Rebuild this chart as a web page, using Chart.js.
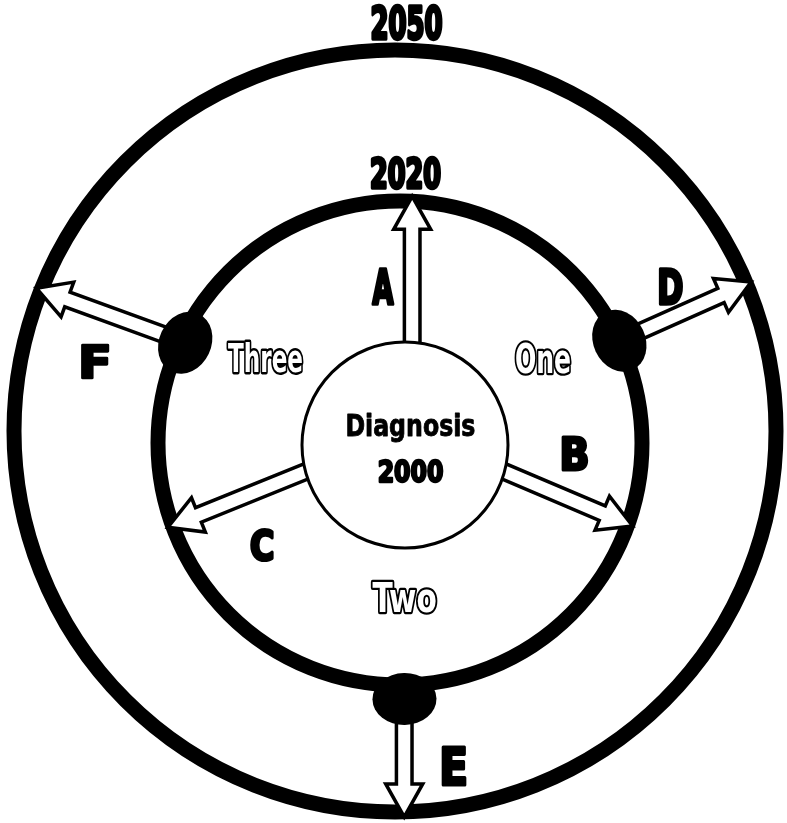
<!DOCTYPE html>
<html lang="en">
<head>
<meta charset="UTF-8">
<title>Diagnosis 2000</title>
<script src="https://cdn.jsdelivr.net/npm/chart.js"></script>
<style>
    html, body { margin: 0; padding: 0; background: #fff; }
    canvas { display: block; }
</style>
</head>
<body>
<canvas id="diagram" width="787" height="823"></canvas>
<script>
// rings, outer to inner (chart units, y grows downward)
const ringLabels = ['2050', '2020', 'Diagnosis 2000'];
const ringCenterX = [395, 400, 405];
const ringCenterY = [431, 443, 445];
const ringRadius = [381, 242, 103];

// arrows: which ring they leave / reach, where on the start ring, heading (deg, ccw from east)
const arrowLabels = ['A', 'B', 'C', 'D', 'E', 'F'];
const arrowFrom = [2, 2, 2, 1, 1, 1];
const arrowTo = [1, 1, 1, 0, 0, 0];
const arrowStartAngle = [86, -15, 195, 25, -89, 155];
const arrowHeading = [90, -23, 202, 24, -90, 160];

// black junctions on the 2020 ring
const junctionAngles = [25, -89, 155];

// stages between the arrows
const stageLabels = ['One', 'Two', 'Three'];

// ---- layout only (centre x, centre y, width, cap height) ----
const ringTextBox = [[407, 22, 69, 33], [406, 173, 68, 30]];
const centreTextBox = [[411, 424, 127, 23], [411, 471, 63, 22]];
const arrowTextBox = [[383, 286, 21, 35], [575, 454, 24, 32], [262, 545, 21, 30],
                      [671, 286, 22, 35], [454, 766, 22, 37], [95, 361, 25, 33]];
const stageTextBox = [[543, 358, 54, 30], [404, 597, 63, 30], [265, 357, 74, 30]];
const junctionOffset = [0, 14, -5];

const FONT = '"DejaVu Sans Condensed", "Liberation Sans Narrow", "DejaVu Sans", sans-serif';

function rad(d) { return d * Math.PI / 180; }

// weight: extra stroke (px) to thicken solid text; outline text gets a white fill
function drawLabel(ctx, text, box, outline, weight) {
    const [cx, cy, w, h] = box;
    ctx.save();
    ctx.font = 'bold 100px ' + FONT;
    const m = ctx.measureText(text);
    const tw = m.actualBoundingBoxRight + m.actualBoundingBoxLeft;
    const th = m.actualBoundingBoxAscent;
    const sx = w / tw, sy = h / th;
    ctx.translate(cx, cy);
    ctx.scale(sx, sy);
    ctx.textAlign = 'left';
    ctx.textBaseline = 'alphabetic';
    ctx.lineJoin = 'round';
    const x0 = -tw / 2 + m.actualBoundingBoxLeft;
    const y0 = th / 2;
    const k = (sx + sy) / 2;
    if (outline) {
        ctx.lineWidth = 4 / k;
        ctx.strokeStyle = '#000';
        ctx.strokeText(text, x0, y0);
        ctx.fillStyle = '#fff';
        ctx.fillText(text, x0, y0);
    } else {
        ctx.fillStyle = '#000';
        ctx.fillText(text, x0, y0);
        if (weight) {
            ctx.lineWidth = weight / k;
            ctx.strokeStyle = '#000';
            ctx.strokeText(text, x0, y0);
        }
    }
    ctx.restore();
}

const diagramPlugin = {
    id: 'diagram',
    afterDraw(chart) {
        const ctx = chart.ctx;
        const xs = chart.scales.x, ys = chart.scales.y;
        const px = v => xs.getPixelForValue(v);
        const py = v => ys.getPixelForValue(v);
        const unit = Math.abs(px(1) - px(0));

        function ringPoint(i, angle, extra) {
            const r = ringRadius[i] + (extra || 0);
            return [ringCenterX[i] + r * Math.cos(rad(angle)), ringCenterY[i] - r * Math.sin(rad(angle))];
        }

        ctx.save();
        ctx.lineCap = 'butt';

        // outer rings
        [0, 1].forEach(i => {
            ctx.beginPath();
            ctx.arc(px(ringCenterX[i]), py(ringCenterY[i]), ringRadius[i] * unit, 0, Math.PI * 2);
            ctx.lineWidth = 15;
            ctx.strokeStyle = '#000';
            ctx.stroke();
        });

        // arrows
        arrowLabels.forEach((lab, i) => {
            const s = ringPoint(arrowFrom[i], arrowStartAngle[i]);
            const dx = Math.cos(rad(arrowHeading[i])), dy = -Math.sin(rad(arrowHeading[i]));
            const t = arrowTo[i];
            const qx = s[0] - ringCenterX[t], qy = s[1] - ringCenterY[t];
            const b = qx * dx + qy * dy;
            const c = qx * qx + qy * qy - ringRadius[t] * ringRadius[t];
            const len = -b + Math.sqrt(b * b - c);
            const sx = px(s[0] - dx * 8), sy = py(s[1] - dy * 8);
            const tx = px(s[0] + dx * (len + 5)), ty = py(s[1] + dy * (len + 5));
            const L = Math.hypot(tx - sx, ty - sy);
            const ux = (tx - sx) / L, uy = (ty - sy) / L;
            const nx = -uy, ny = ux;
            const hw = 7.8, hh = 18.5, hl = 33;
            const bx = tx - ux * hl, by = ty - uy * hl;
            ctx.beginPath();
            ctx.moveTo(sx + nx * hw, sy + ny * hw);
            ctx.lineTo(bx + nx * hw, by + ny * hw);
            ctx.lineTo(bx + nx * hh, by + ny * hh);
            ctx.lineTo(tx, ty);
            ctx.lineTo(bx - nx * hh, by - ny * hh);
            ctx.lineTo(bx - nx * hw, by - ny * hw);
            ctx.lineTo(sx - nx * hw, sy - ny * hw);
            ctx.closePath();
            ctx.fillStyle = '#fff';
            ctx.fill();
            ctx.lineWidth = 3.5;
            ctx.lineJoin = 'miter';
            ctx.strokeStyle = '#000';
            ctx.stroke();
        });

        // diagnosis circle
        ctx.beginPath();
        ctx.arc(px(ringCenterX[2]), py(ringCenterY[2]), ringRadius[2] * unit, 0, Math.PI * 2);
        ctx.fillStyle = '#fff';
        ctx.fill();
        ctx.lineWidth = 3;
        ctx.stroke();

        // junctions
        junctionAngles.forEach((a, i) => {
            const p = ringPoint(1, a, junctionOffset[i]);
            ctx.beginPath();
            ctx.ellipse(px(p[0]), py(p[1]), 32 * unit, 26 * unit, rad(90 - a), 0, Math.PI * 2);
            ctx.fillStyle = '#000';
            ctx.fill();
        });
        ctx.restore();

        // text
        drawLabel(ctx, ringLabels[0], ringTextBox[0], false, 3);
        drawLabel(ctx, ringLabels[1], ringTextBox[1], false, 3);
        ringLabels[2].split(' ').forEach((w, i) => drawLabel(ctx, w, centreTextBox[i], false, i ? 2.2 : 0.8));
        arrowLabels.forEach((lab, i) => drawLabel(ctx, lab, arrowTextBox[i], false, 3));
        stageLabels.forEach((lab, i) => drawLabel(ctx, lab, stageTextBox[i], true));
    }
};

new Chart(document.getElementById('diagram'), {
    type: 'scatter',
    data: { datasets: [] },
    options: {
        responsive: false,
        animation: false,
        events: [],
        layout: { padding: 0 },
        plugins: { legend: { display: false }, tooltip: { enabled: false } },
        scales: {
            x: { type: 'linear', min: 0, max: 787, display: false },
            y: { type: 'linear', min: 0, max: 823, reverse: true, display: false }
        }
    },
    plugins: [diagramPlugin]
});
</script>
</body>
</html>
